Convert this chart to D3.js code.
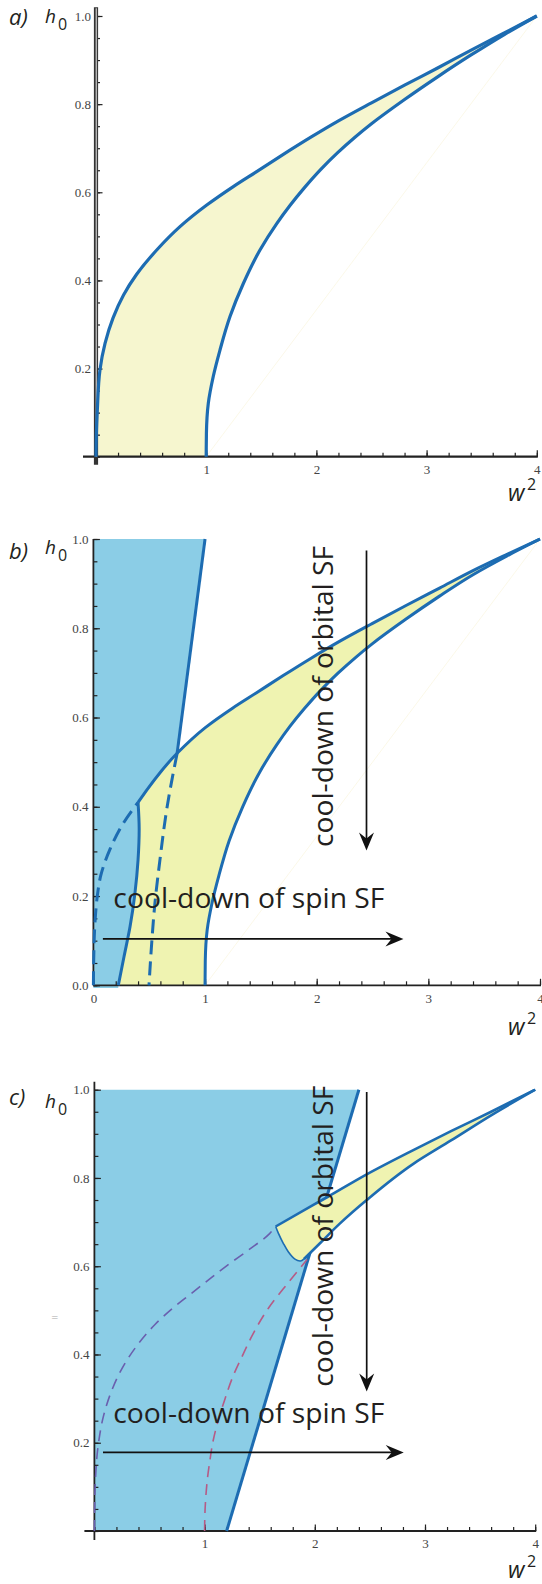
<!DOCTYPE html>
<html>
<head>
<meta charset="utf-8">
<script src="https://cdn.jsdelivr.net/npm/d3@7"></script>
<style>
    body {margin: 0; background: #fff;}
    svg {display: block;}
    .tick text {font-family: "Liberation Serif", "Times New Roman", serif; font-size: 13px; fill: #444;}
    .lbl {font-family: "Open Sans", sans-serif; fill: #231f20;}
</style>
</head>
<body>
<div id="chart"></div>
<script>
// tick labels
const xLabelsAC = [1, 2, 3, 4],
    xLabelsB = [0, 1, 2, 3, 4],
    yLabelsAC = [0.2, 0.4, 0.6, 0.8, 1.0],
    yLabelsB = [0, 0.2, 0.4, 0.6, 0.8, 1.0];

// a) boundaries [w^2, h0]
const aUpper = [[0, 0], [0.003, 0.05], [0.012, 0.106], [0.036, 0.197], [0.082, 0.257], [0.155, 0.315], [0.25, 0.367],
    [0.369, 0.414], [0.551, 0.469], [0.762, 0.522], [1.005, 0.571], [1.246, 0.613], [1.458, 0.647], [1.70, 0.686],
    [1.95, 0.725], [2.2, 0.762], [2.5, 0.803], [2.8, 0.843], [3.1, 0.882], [3.4, 0.922], [3.7, 0.961], [4, 1]];
const aLower = [[1, 0], [1.002, 0.053], [1.019, 0.121], [1.064, 0.182], [1.125, 0.242], [1.216, 0.318], [1.337, 0.393],
    [1.488, 0.469], [1.64, 0.529], [1.76, 0.57], [1.89, 0.61], [2.04, 0.652], [2.193, 0.69], [2.35, 0.725],
    [2.497, 0.755], [2.797, 0.81], [3.1, 0.862], [3.4, 0.911], [3.705, 0.958], [4, 1]];

// b)
const bUpperDashed = [[0, 0], [0.003, 0.06], [0.014, 0.14], [0.035, 0.2], [0.065, 0.245], [0.149, 0.305], [0.253, 0.357],
    [0.40, 0.41]];
const bUpper = [[0.40, 0.41], [0.75, 0.52], [1.005, 0.578], [1.246, 0.621], [1.458, 0.655], [1.70, 0.694],
    [1.95, 0.733], [2.2, 0.770], [2.5, 0.811], [2.8, 0.851], [3.1, 0.89], [3.4, 0.929], [3.7, 0.965], [4, 1]];
const bLower = [[1, 0], [1.002, 0.055], [1.019, 0.124], [1.064, 0.186], [1.125, 0.247], [1.216, 0.324], [1.337, 0.4],
    [1.488, 0.477], [1.64, 0.538], [1.76, 0.58], [1.89, 0.62], [2.04, 0.662], [2.193, 0.70], [2.35, 0.735],
    [2.497, 0.765], [2.797, 0.82], [3.1, 0.872], [3.4, 0.92], [3.705, 0.962], [4, 1]];
const bSteep = [[1.0, 1.0], [0.75, 0.52]];
const bSteepDashed = [[0.75, 0.52], [0.656, 0.393], [0.596, 0.281], [0.551, 0.184], [0.522, 0.094], [0.498, 0]];
const bSpinEdge = [[0.40, 0.41], [0.41, 0.35], [0.40, 0.281], [0.372, 0.206], [0.328, 0.131], [0.274, 0.064], [0.223, 0]];

// c)
const cSteep = [[1.2, 0], [2.4, 1.0]];
const cUpper = [[1.645, 0.69], [1.987, 0.739], [2.123, 0.758], [2.471, 0.808], [2.894, 0.863], [3.236, 0.906],
    [3.6, 0.95], [4, 1]];
const cLower = [[1.90, 0.616], [2.047, 0.652], [2.229, 0.697], [2.471, 0.75], [2.894, 0.832], [3.236, 0.885],
    [3.6, 0.942], [4, 1]];
const cEdge = [[1.645, 0.69], [1.669, 0.675], [1.714, 0.652], [1.759, 0.633], [1.82, 0.616], [1.87, 0.612], [1.90, 0.616]];
const cPurple = [[0, 0], [0.002, 0.05], [0.008, 0.11], [0.037, 0.199], [0.084, 0.262], [0.16, 0.32], [0.25, 0.368],
    [0.38, 0.418], [0.55, 0.468], [0.711, 0.505], [0.822, 0.527], [1.0, 0.562], [1.2, 0.601], [1.4, 0.637],
    [1.59, 0.674], [1.645, 0.69]];
const cPink = [[1.0, 0], [1.003, 0.04], [1.011, 0.077], [1.025, 0.117], [1.05, 0.163], [1.073, 0.199], [1.125, 0.252],
    [1.182, 0.297], [1.26, 0.352], [1.339, 0.395], [1.43, 0.442], [1.527, 0.485], [1.574, 0.503], [1.75, 0.56],
    [1.93, 0.615]];

const spinLabel = "cool-down of spin SF",
    orbitalLabel = "cool-down of orbital SF";

const blue = "#1d6cb2", skyFill = "#8bcde6", paleYellow = "#f6f6cf", yellow = "#eff3b1";

const svg = d3.select("#chart").append("svg")
    .attr("width", 542)
    .attr("height", 1584);

function makeScales(p) {
    return {
        x: d3.scaleLinear().domain([0, 4]).range([p.x0, p.x1]),
        y: d3.scaleLinear().domain([0, 1]).range([p.yBot, p.yTop])
    };
}

// every boundary is monotone in h0, so a monotone spline in y keeps it smooth
function lineOf(s) {
    return d3.line().x(d => s.x(d[0])).y(d => s.y(d[1])).curve(d3.curveMonotoneY);
}

function straightOf(s) {
    return d3.line().x(d => s.x(d[0])).y(d => s.y(d[1]));
}

function join(...parts) {
    return parts.map((p, i) => i ? p.replace(/^M/, "L") : p).join("") + "Z";
}

function drawAxes(g, s, p) {
    const x = s.x, y = s.y;
    const ax = g.append("g").attr("color", "#222");

    ax.append("g")
        .attr("transform", "translate(0," + y(0) + ")")
        .call(d3.axisBottom(x).tickValues(x.ticks(20)).tickSize(-4).tickFormat(""))
        .call(a => a.select(".domain").remove());
    ax.append("g")
        .attr("transform", "translate(0," + y(0) + ")")
        .call(d3.axisBottom(x).tickValues(p.xLabels).tickSize(-6.5).tickPadding(8).tickFormat(d3.format("d")))
        .call(a => a.select(".domain").remove());
    ax.append("g")
        .attr("transform", "translate(" + x(0) + ",0)")
        .call(d3.axisLeft(y).tickValues(y.ticks(20)).tickSize(-4).tickFormat(""))
        .call(a => a.select(".domain").remove());
    ax.append("g")
        .attr("transform", "translate(" + x(0) + ",0)")
        .call(d3.axisLeft(y).tickValues(p.yLabels).tickSize(-6.5).tickPadding(5).tickFormat(d3.format(".1f")))
        .call(a => a.select(".domain").remove());

    ax.selectAll(".tick line").attr("stroke-width", 1.2);

    // axis lines
    ax.append("line")
        .attr("x1", x(0) - p.xExt).attr("x2", x(4) + 1)
        .attr("y1", y(0)).attr("y2", y(0))
        .attr("stroke", "#222").attr("stroke-width", p.xAxisW);
    if (p.doubleY) {
        ax.append("line")
            .attr("x1", x(0)).attr("x2", x(0))
            .attr("y1", y(0) + p.yExt).attr("y2", y(p.yMax))
            .attr("stroke", "#333").attr("stroke-width", 4.2);
        ax.append("line")
            .attr("x1", x(0) + 0.3).attr("x2", x(0) + 0.3)
            .attr("y1", y(0)).attr("y2", y(p.yMax) + 1)
            .attr("stroke", "#b4b4b4").attr("stroke-width", 1.5);
    } else {
        ax.append("line")
            .attr("x1", x(0)).attr("x2", x(0))
            .attr("y1", y(0) + p.yExt).attr("y2", y(p.yMax))
            .attr("stroke", "#222").attr("stroke-width", 1.8);
    }
}

function drawLabels(g, p) {
    g.append("text").attr("class", "lbl")
        .attr("x", 9).attr("y", p.tagY)
        .attr("font-size", 22).attr("font-style", "italic")
        .text(p.tag);
    g.append("text").attr("class", "lbl")
        .attr("x", 45).attr("y", p.hY)
        .attr("font-size", 19).attr("font-style", "italic")
        .text("h");
    g.append("text").attr("class", "lbl")
        .attr("x", 58).attr("y", p.hY + 7)
        .attr("font-size", 16)
        .text("0");
    g.append("text").attr("class", "lbl")
        .attr("x", 508).attr("y", p.wY)
        .attr("font-size", 23).attr("font-style", "italic")
        .text("w");
    g.append("text").attr("class", "lbl")
        .attr("x", 527).attr("y", p.wY - 11)
        .attr("font-size", 16)
        .text("2");
}

function arrow(g, s, from, to) {
    const p0 = [s.x(from[0]), s.y(from[1])],
        p1 = [s.x(to[0]), s.y(to[1])];
    const a = Math.atan2(p1[1] - p0[1], p1[0] - p0[0]),
        c = Math.cos(a), sn = Math.sin(a);
    const pt = (u, v) => [p1[0] + u * c - v * sn, p1[1] + u * sn + v * c];
    g.append("line")
        .attr("x1", p0[0]).attr("y1", p0[1])
        .attr("x2", pt(-11, 0)[0]).attr("y2", pt(-11, 0)[1])
        .attr("stroke", "#111").attr("stroke-width", 1.7);
    g.append("path")
        .attr("d", "M" + [pt(0, 0), pt(-18, -7.5), pt(-12, 0), pt(-18, 7.5)].join("L") + "Z")
        .attr("fill", "#111");
}

function annotate(g, s, p) {
    arrow(g, s, p.orbArrow[0], p.orbArrow[1]);
    arrow(g, s, p.spinArrow[0], p.spinArrow[1]);

    g.append("text").attr("class", "lbl")
        .attr("x", s.x(p.spinText[0])).attr("y", s.y(p.spinText[1]))
        .attr("font-size", 27.5)
        .attr("textLength", 271).attr("lengthAdjust", "spacingAndGlyphs")
        .text(spinLabel);

    const ox = s.x(p.orbText[0]), oy = s.y(p.orbText[1]);
    g.append("text").attr("class", "lbl")
        .attr("x", ox).attr("y", oy)
        .attr("transform", "rotate(-90," + ox + "," + oy + ")")
        .attr("font-size", 27.5)
        .attr("textLength", 301).attr("lengthAdjust", "spacingAndGlyphs")
        .text(orbitalLabel);
}

// ---------- a)
const pa = {x0: 96, x1: 536.8, yTop: 16, yBot: 456.7, xLabels: xLabelsAC, yLabels: yLabelsAC,
    xExt: 13, yExt: 8, yMax: 1.02, xAxisW: 2.2, doubleY: true, tag: "a)", tagY: 25, hY: 23, wY: 501};
const sa = makeScales(pa), ga = svg.append("g");

ga.append("path")
    .attr("d", join(lineOf(sa)(aUpper), lineOf(sa)(aLower.slice().reverse())))
    .attr("fill", paleYellow);
ga.append("path")
    .attr("d", straightOf(sa)([[1, 0], [4, 1]]))
    .attr("stroke", "#faf6e2").attr("stroke-width", 0.8).attr("fill", "none");
drawAxes(ga, sa, pa);
[aUpper, aLower].forEach(c => ga.append("path")
    .attr("d", lineOf(sa)(c))
    .attr("fill", "none").attr("stroke", blue).attr("stroke-width", 3.2));
drawLabels(ga, pa);

// ---------- b)
const pb = {x0: 93.4, x1: 540, yTop: 539, yBot: 985.3, xLabels: xLabelsB, yLabels: yLabelsB,
    xExt: 0, yExt: 0, yMax: 1.0, xAxisW: 1.8, doubleY: false, tag: "b)", tagY: 559, hY: 554, wY: 1035,
    orbArrow: [[2.446, 0.974], [2.446, 0.302]], spinArrow: [[0.085, 0.104], [2.777, 0.104]],
    spinText: [0.179, 0.1725], orbText: [2.144, 0.31]};
const sb = makeScales(pb), gb = svg.append("g");

gb.append("path")
    .attr("d", join(lineOf(sb)(bUpper), lineOf(sb)(bLower.slice().reverse()), lineOf(sb)(bSpinEdge.slice().reverse())))
    .attr("fill", yellow);
gb.append("path")
    .attr("d", join(straightOf(sb)([[0, -0.006], [0, 1], bSteep[0], bSteep[1], bUpper[0]]),
        lineOf(sb)(bSpinEdge), straightOf(sb)([[0.223, -0.006]])))
    .attr("fill", skyFill);
gb.append("path")
    .attr("d", straightOf(sb)([[1, 0], [4, 1]]))
    .attr("stroke", "#faf6e2").attr("stroke-width", 0.8).attr("fill", "none");
drawAxes(gb, sb, pb);
[bUpper, bLower, bSpinEdge].forEach(c => gb.append("path")
    .attr("d", lineOf(sb)(c))
    .attr("fill", "none").attr("stroke", blue).attr("stroke-width", 3));
gb.append("path")
    .attr("d", straightOf(sb)(bSteep))
    .attr("fill", "none").attr("stroke", blue).attr("stroke-width", 3);
[bUpperDashed, bSteepDashed].forEach(c => gb.append("path")
    .attr("d", lineOf(sb)(c))
    .attr("fill", "none").attr("stroke", blue).attr("stroke-width", 3)
    .attr("stroke-dasharray", "14,7"));
drawLabels(gb, pb);
annotate(gb, sb, pb);

// ---------- c)
const pc = {x0: 94.4, x1: 535.2, yTop: 1089.7, yBot: 1531, xLabels: xLabelsAC, yLabels: yLabelsAC,
    xExt: 10, yExt: 9, yMax: 1.018, xAxisW: 1.8, doubleY: false, tag: "c)", tagY: 1105, hY: 1108, wY: 1578,
    orbArrow: [[2.471, 0.995], [2.471, 0.316]], spinArrow: [[0.078, 0.178], [2.807, 0.178]],
    spinText: [0.172, 0.245], orbText: [2.165, 0.327]};
const sc = makeScales(pc), gc = svg.append("g");

gc.append("path")
    .attr("d", straightOf(sc)([[0, 0], [0, 1], cSteep[1], cSteep[0]]) + "Z")
    .attr("fill", skyFill);
drawAxes(gc, sc, pc);
gc.append("path")
    .attr("d", straightOf(sc)(cSteep))
    .attr("fill", "none").attr("stroke", blue).attr("stroke-width", 3);
gc.append("path")
    .attr("d", lineOf(sc)(cPurple))
    .attr("fill", "none").attr("stroke", "#6a5fae").attr("stroke-width", 1.6)
    .attr("stroke-dasharray", "11,7");
gc.append("path")
    .attr("d", lineOf(sc)(cPink))
    .attr("fill", "none").attr("stroke", "#b55b86").attr("stroke-width", 1.6)
    .attr("stroke-dasharray", "11,7");
gc.append("path")
    .attr("d", join(lineOf(sc)(cUpper), lineOf(sc)(cLower.slice().reverse()), lineOf(sc)(cEdge.slice().reverse())))
    .attr("fill", yellow);
[cUpper, cLower].forEach(c => gc.append("path")
    .attr("d", lineOf(sc)(c))
    .attr("fill", "none").attr("stroke", blue).attr("stroke-width", 2.6));
gc.append("path")
    .attr("d", d3.line().x(d => sc.x(d[0])).y(d => sc.y(d[1])).curve(d3.curveCatmullRom.alpha(0.5))(cEdge))
    .attr("fill", "none").attr("stroke", blue).attr("stroke-width", 1.6);
gc.append("text")
    .attr("x", 51).attr("y", 1320)
    .attr("font-family", "DejaVu Sans").attr("font-size", 9).attr("fill", "#aaa")
    .text("=");
drawLabels(gc, pc);
annotate(gc, sc, pc);
</script>
</body>
</html>
